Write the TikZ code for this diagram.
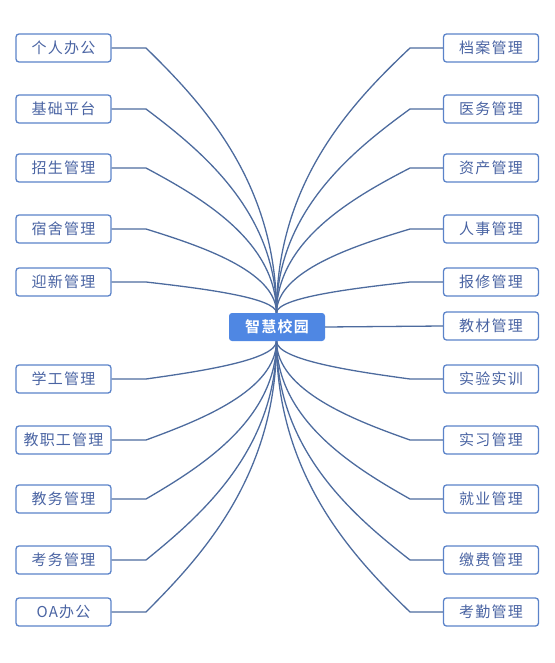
\documentclass[tikz,border=0pt]{standalone}
\usepackage{fontspec}
\newfontfamily\cjk[LetterSpace=8]{Noto Sans CJK SC}
\newfontfamily\cjkb[LetterSpace=8,BoldFont={Noto Sans CJK SC Bold}]{Noto Sans CJK SC}
\definecolor{linkc}{HTML}{4D6B9E}
\definecolor{boxc}{HTML}{5B83C9}
\definecolor{txtc}{HTML}{4A64A3}
\definecolor{hubc}{HTML}{4F87E3}
\tikzset{
  leaf/.style={draw=boxc, line width=1.3pt, rounded corners=3pt, fill=white,
    minimum width=95pt, minimum height=28pt, inner sep=0pt,
    text=txtc, font=\cjk\fontsize{15}{17}\selectfont},
  hub/.style={fill=hubc, rounded corners=3pt, minimum width=96pt, minimum height=28pt,
    inner sep=0pt, text=white, font=\cjkb\bfseries\fontsize{15}{17}\selectfont},
  link/.style={draw=linkc, line width=1.3pt}
}
\begin{document}
\begin{tikzpicture}[x=1pt,y=-1pt]
\useasboundingbox (0,0) rectangle (554,663);
\coordinate (ht) at (276.5,313);
\coordinate (hb) at (276.5,341);
\foreach \n/\y/\t in {l1/48/个人办公, l2/109/基础平台, l3/168/招生管理, l4/229/宿舍管理, l5/282/迎新管理, l6/379/学工管理, l7/440/教职工管理, l8/499/教务管理, l9/560/考务管理, l10/612/OA办公}{
  \node[leaf] (\n) at (63.5,\y) {\t};
}
\foreach \n/\y/\t in {r1/48/档案管理, r2/109/医务管理, r3/168/资产管理, r4/229/人事管理, r5/282/报修管理, r6/326/教材管理, r7/379/实验实训, r8/440/实习管理, r9/499/就业管理, r10/560/缴费管理, r11/612/考勤管理}{
  \node[leaf] (\n) at (491,\y) {\t};
}
\foreach \n/\y/\T/\h in {l1/48/313/ht, l2/109/313/ht, l3/168/313/ht, l4/229/313/ht, l5/282/313/ht, l6/379/341/hb, l7/440/341/hb, l8/499/341/hb, l9/560/341/hb, l10/612/341/hb}{
  \pgfmathsetmacro\ca{\y+0.2*(\T-\y)}
  \pgfmathsetmacro\cb{(\T+\y)/2}
  \coordinate (e\n) at (146,\y);
  \draw[link] (\n.east) -- (e\n) .. controls (200,\ca) and (276.5,\cb) .. (\h);
}
\foreach \n/\y/\T/\h in {r1/48/313/ht, r2/109/313/ht, r3/168/313/ht, r4/229/313/ht, r5/282/313/ht, r7/379/341/hb, r8/440/341/hb, r9/499/341/hb, r10/560/341/hb, r11/612/341/hb}{
  \pgfmathsetmacro\ca{\y+0.2*(\T-\y)}
  \pgfmathsetmacro\cb{(\T+\y)/2}
  \coordinate (e\n) at (410,\y);
  \draw[link] (\n.west) -- (e\n) .. controls (354,\ca) and (276.5,\cb) .. (\h);
}
\node[hub] (hub) at (277,327) {智慧校园};
\draw[link] (hub.east) -- (r6.west);
\end{tikzpicture}
\end{document}
